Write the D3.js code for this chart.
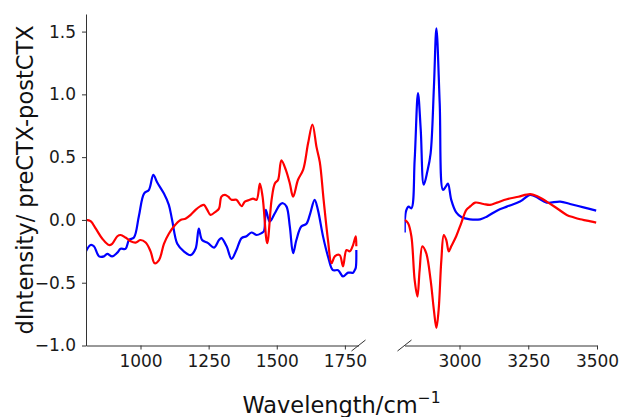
<!DOCTYPE html>
<html>
<head>
<meta charset="utf-8">
<script src="https://cdn.jsdelivr.net/npm/d3@7"></script>
<style>
  body { margin: 0; background: #fff; }
  svg { display: block; font-family: "DejaVu Sans", sans-serif; }
</style>
</head>
<body>
<svg width="619" height="417"></svg>
<script>
// difference spectra, [wavenumber, dIntensity]
const blueLow = [[800,-0.25],[817,-0.20],[829,-0.21],[848,-0.29],[866,-0.29],[878,-0.27],[896,-0.29],[915,-0.26],[927,-0.23],[945,-0.23],[958,-0.16],[976,-0.14],[994,0.03],[1013,0.21],[1031,0.24],[1047,0.36],[1061,0.30],[1086,0.21],[1104,0.12],[1116,0.0],[1135,-0.19],[1159,-0.25],[1184,-0.28],[1202,-0.23],[1214,-0.07],[1226,-0.16],[1248,-0.185],[1270,-0.22],[1288,-0.16],[1297,-0.145],[1316,-0.21],[1334,-0.31],[1352,-0.24],[1371,-0.145],[1389,-0.13],[1407,-0.1],[1426,-0.12],[1444,-0.105],[1453,-0.09],[1460,0.08],[1474,-0.014],[1493,0.053],[1511,0.12],[1523,0.133],[1536,0.106],[1548,-0.053],[1560,-0.265],[1572,-0.16],[1590,-0.053],[1609,-0.03],[1623,0.053],[1639,0.16],[1651,0.08],[1670,-0.133],[1688,-0.29],[1706,-0.4],[1725,-0.4],[1743,-0.45],[1762,-0.42],[1780,-0.42],[1786,-0.4],[1790,-0.38],[1792,-0.24]];
const redLow = [[800,0.0],[817,-0.01],[836,-0.07],[860,-0.15],[884,-0.2],[896,-0.19],[915,-0.13],[927,-0.12],[945,-0.14],[964,-0.17],[982,-0.18],[1000,-0.16],[1019,-0.18],[1037,-0.25],[1052,-0.345],[1068,-0.32],[1086,-0.19],[1104,-0.11],[1123,-0.05],[1147,0.0],[1165,0.01],[1184,0.04],[1202,0.08],[1220,0.11],[1233,0.12],[1245,0.08],[1257,0.04],[1275,0.065],[1288,0.09],[1297,0.185],[1310,0.2],[1322,0.185],[1334,0.16],[1352,0.16],[1371,0.11],[1383,0.146],[1401,0.16],[1413,0.17],[1426,0.16],[1438,0.29],[1448,0.185],[1465,-0.185],[1481,0.16],[1493,0.29],[1505,0.32],[1517,0.475],[1533,0.4],[1548,0.29],[1560,0.185],[1578,0.32],[1597,0.40],[1615,0.61],[1631,0.76],[1646,0.58],[1658,0.46],[1672,0.16],[1688,-0.16],[1701,-0.345],[1713,-0.29],[1731,-0.28],[1743,-0.37],[1756,-0.24],[1768,-0.25],[1780,-0.2],[1790,-0.13],[1792,-0.21]];
const blueHigh = [[2801,-0.1],[2805,0.066],[2815,0.106],[2825,0.093],[2837,0.48],[2849,1.01],[2859,0.72],[2870,0.28],[2883,0.385],[2895,0.53],[2907,1.06],[2916,1.526],[2928,0.93],[2940,0.24],[2950,0.265],[2958,0.29],[2970,0.16],[2988,0.06],[3008,0.021],[3038,0.005],[3075,0.005],[3099,0.026],[3136,0.074],[3172,0.106],[3220,0.146],[3257,0.2],[3287,0.173],[3317,0.138],[3366,0.146],[3402,0.127],[3451,0.1],[3497,0.074]];
const redHigh = [[2801,0.0],[2813,-0.027],[2825,-0.13],[2837,-0.48],[2847,-0.61],[2855,-0.4],[2865,-0.21],[2879,-0.265],[2895,-0.48],[2907,-0.72],[2916,-0.86],[2924,-0.72],[2934,-0.32],[2943,-0.12],[2952,-0.16],[2961,-0.25],[2970,-0.21],[2988,-0.13],[3006,-0.027],[3025,0.08],[3040,0.11],[3057,0.138],[3087,0.127],[3111,0.12],[3136,0.138],[3172,0.165],[3214,0.185],[3257,0.205],[3281,0.19],[3317,0.146],[3354,0.093],[3390,0.04],[3414,0.021],[3439,0.005],[3463,-0.005],[3497,-0.021]];

const lowTicks = [1000, 1250, 1500, 1750];
const highTicks = [3000, 3250, 3500];
const yTicks = [-1.0, -0.5, 0.0, 0.5, 1.0, 1.5];

const svg = d3.select('svg');
const tickFont = 17;

const y = d3.scaleLinear().domain([-1, 1.64]).range([345.5, 14]);
const xLow = d3.scaleLinear().domain([800, 1800]).range([86, 358.5]);
const xHigh = d3.scaleLinear().domain([2800, 3500]).range([404.5, 597]);

const panels = [
  { x: xLow, ticks: lowTicks, series: [blueLow, redLow], left: true },
  { x: xHigh, ticks: highTicks, series: [blueHigh, redHigh], left: false }
];
const colors = ['#0000ff', '#ff0000'];

panels.forEach(p => {
  const g = svg.append('g');
  const clipId = 'clip' + (p.left ? 'L' : 'R');
  g.append('clipPath').attr('id', clipId).append('rect')
    .attr('x', p.x.range()[0]).attr('y', 0)
    .attr('width', p.x.range()[1] - p.x.range()[0]).attr('height', 417);

  const line = d3.line()
    .x(d => p.x(d[0]))
    .y(d => y(d[1]))
    .curve(d3.curveCatmullRom.alpha(0.5));

  p.series.forEach((s, i) => {
    g.append('path')
      .datum(s)
      .attr('clip-path', `url(#${clipId})`)
      .attr('fill', 'none')
      .attr('stroke', colors[i])
      .attr('stroke-width', 2.2)
      .attr('stroke-linejoin', 'round')
      .attr('d', line);
  });

  const xAxis = g.append('g')
    .attr('transform', `translate(0,${y.range()[0]})`)
    .call(d3.axisBottom(p.x).tickValues(p.ticks).tickSize(4).tickPadding(5).tickSizeOuter(0)
      .tickFormat(d3.format('d')));
  xAxis.select('.domain').attr('stroke', '#333');
  xAxis.selectAll('.tick line').attr('stroke', '#333');
  xAxis.selectAll('text').attr('font-size', tickFont).attr('font-family', 'DejaVu Sans').attr('fill', '#1a1a1a');

  if (p.left) {
    const yAxis = g.append('g')
      .attr('transform', `translate(${p.x.range()[0]},0)`)
      .call(d3.axisLeft(y).tickValues(yTicks).tickSize(4).tickPadding(6).tickSizeOuter(0)
        .tickFormat(d => d3.format('.1f')(d).replace('-', '\u2212')));
    yAxis.select('.domain').attr('stroke', '#333');
    yAxis.selectAll('.tick line').attr('stroke', '#333');
    yAxis.selectAll('text').attr('font-size', tickFont).attr('font-family', 'DejaVu Sans').attr('fill', '#1a1a1a');
  }
});

// broken-axis marks
const by = y.range()[0];
[xLow.range()[1], xHigh.range()[0]].forEach(bx => {
  svg.append('line')
    .attr('x1', bx - 7).attr('y1', by + 5.5)
    .attr('x2', bx + 7).attr('y2', by - 5.5)
    .attr('stroke', '#333').attr('stroke-width', 1);
});

svg.append('text')
  .attr('transform', 'translate(33,180) rotate(-90)')
  .attr('text-anchor', 'middle')
  .attr('font-size', 22.5)
  .attr('fill', '#111')
  .text('dIntensity/ preCTX-postCTX');

// x label centred under both panels
const xl = svg.append('text')
  .attr('x', (xLow.range()[0] + xHigh.range()[1]) / 2).attr('y', 413)
  .attr('text-anchor', 'middle')
  .attr('font-size', 22.5)
  .attr('fill', '#111');
xl.append('tspan').text('Wavelength/cm');
xl.append('tspan').attr('font-size', 15.5).attr('dy', -10).text('\u22121');
</script>
</body>
</html>
